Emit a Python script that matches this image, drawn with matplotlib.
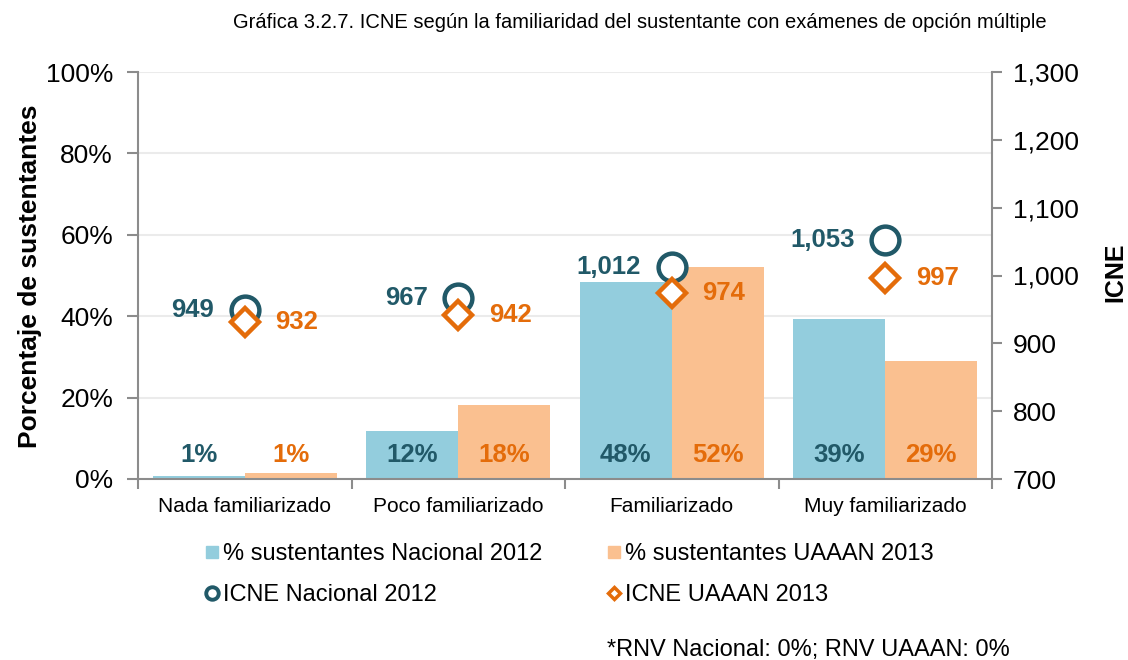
import matplotlib
matplotlib.use("Agg")
import matplotlib.pyplot as plt
from matplotlib.lines import Line2D
import matplotlib.ticker as mticker

plt.rcParams['font.family'] = ['Liberation Sans', 'DejaVu Sans']

categories = ["Nada familiarizado", "Poco familiarizado", "Familiarizado", "Muy familiarizado"]
pct_nacional = [0.7, 11.8, 48.3, 39.2]
pct_uaaan = [1.4, 18.2, 52.2, 29.1]
icne_nacional = [949, 967, 1012, 1053]
icne_uaaan = [932, 942, 974, 997]
series_names = ["% sustentantes Nacional 2012", "% sustentantes UAAAN 2013",
                "ICNE Nacional 2012", "ICNE UAAAN 2013"]
title = "Gráfica 3.2.7. ICNE según la familiaridad del sustentante con exámenes de opción múltiple"
footnote = "*RNV Nacional: 0%; RNV UAAAN: 0%"

C_BLUE = "#93CDDD"
C_ORANGE = "#FAC090"
C_TEAL = "#215968"
C_DORANGE = "#E46C0A"
C_SPINE = "#8C8C8C"
C_GRID = "#EBEBEB"

fig = plt.figure(figsize=(11.28, 6.6), dpi=100)
ax = fig.add_axes([138/1128, 1-479/660, 854/1128, 407/660])
ax2 = ax.twinx()

x = list(range(len(categories)))
w = 0.43
ax.bar([i - w/2 for i in x], pct_nacional, width=w, color=C_BLUE, zorder=2)
ax.bar([i + w/2 for i in x], pct_uaaan, width=w, color=C_ORANGE, zorder=2)

for i in x:
    ax.text(i - w/2, 6.0, f"{pct_nacional[i]:.0f}%", ha='center', va='center',
            fontsize=18.5, fontweight='bold', color=C_TEAL, zorder=3)
    ax.text(i + w/2, 6.0, f"{pct_uaaan[i]:.0f}%", ha='center', va='center',
            fontsize=18.5, fontweight='bold', color=C_DORANGE, zorder=3)

ax.set_xlim(-0.5, len(categories) - 0.5)
ax.set_ylim(0, 100)
ax.set_yticks([0, 20, 40, 60, 80, 100])
ax.yaxis.set_major_formatter(mticker.FuncFormatter(lambda v, p: f"{v:.0f}%"))
ax.set_xticks(x)
ax.set_xticklabels(categories, fontsize=15)
ax.set_xticks([i - 0.5 for i in range(len(categories) + 1)], minor=True)
ax.tick_params(axis='x', which='major', length=0, pad=13)
ax.tick_params(axis='x', which='minor', length=7, width=1.5, color=C_SPINE, direction='out')
ax.tick_params(axis='y', labelsize=19, length=8, width=1.5, color=C_SPINE, pad=10)
ax.grid(axis='y', color=C_GRID, lw=1.5, zorder=0)
ax.set_axisbelow(True)

for s in ['top', 'right']:
    ax.spines[s].set_visible(False)
for s in ['left', 'bottom']:
    ax.spines[s].set_color(C_SPINE)
    ax.spines[s].set_linewidth(1.5)
for s in ['top', 'left', 'bottom']:
    ax2.spines[s].set_visible(False)
ax2.spines['right'].set_color(C_SPINE)
ax2.spines['right'].set_linewidth(1.5)

ax2.set_ylim(700, 1300)
ax2.set_yticks(range(700, 1301, 100))
ax2.yaxis.set_major_formatter(mticker.FuncFormatter(lambda v, p: f"{v:,.0f}"))
ax2.tick_params(axis='y', labelsize=19, length=7, width=1.5, color=C_SPINE, pad=8)

ax2.plot(x, icne_nacional, ls='none', marker='o', ms=20, mew=3.2,
         mec=C_TEAL, mfc='white', zorder=3)
ax2.plot(x, icne_uaaan, ls='none', marker='D', ms=14.5, mew=3.2,
         mec=C_DORANGE, mfc='white', zorder=4)
for i in x:
    ax2.annotate(f"{icne_nacional[i]:,}", (i, icne_nacional[i]), xytext=(-22, 0),
                 textcoords='offset points', ha='right', va='center',
                 fontsize=18.5, fontweight='bold', color=C_TEAL)
    ax2.annotate(f"{icne_uaaan[i]:,}", (i, icne_uaaan[i]), xytext=(22, 0),
                 textcoords='offset points', ha='left', va='center',
                 fontsize=18.5, fontweight='bold', color=C_DORANGE)

fig.text(640/1128, 1-22/660, title, ha='center', va='center', fontsize=14.5)
fig.text(30/1128, 1-276/660, "Porcentaje de sustentantes", rotation=90,
         ha='center', va='center', fontsize=19, fontweight='bold')
fig.text(1115/1128, 1-272/660, "ICNE", rotation=90, ha='center', va='center',
         fontsize=18, fontweight='bold')

handles = [
    Line2D([], [], ls='none', marker='s', ms=8, mfc=C_BLUE, mec=C_BLUE),
    Line2D([], [], ls='none', marker='o', ms=9, mew=2.8, mfc='white', mec=C_TEAL),
    Line2D([], [], ls='none', marker='s', ms=8, mfc=C_ORANGE, mec=C_ORANGE),
    Line2D([], [], ls='none', marker='D', ms=6.5, mew=2.5, mfc='white', mec=C_DORANGE),
]
labels = [series_names[0], series_names[2], series_names[1], series_names[3]]
fig.legend(handles, labels, ncol=2, loc='upper left',
           bbox_to_anchor=(205/1128, 1-543/660), frameon=False, fontsize=17,
           handlelength=0.6, handletextpad=0.15, columnspacing=2.75,
           labelspacing=0.8, borderaxespad=0, borderpad=0)

fig.text(607/1128, 1-650/660, footnote, ha='left', va='center', fontsize=17)

fig.savefig("out.png", dpi=100)
